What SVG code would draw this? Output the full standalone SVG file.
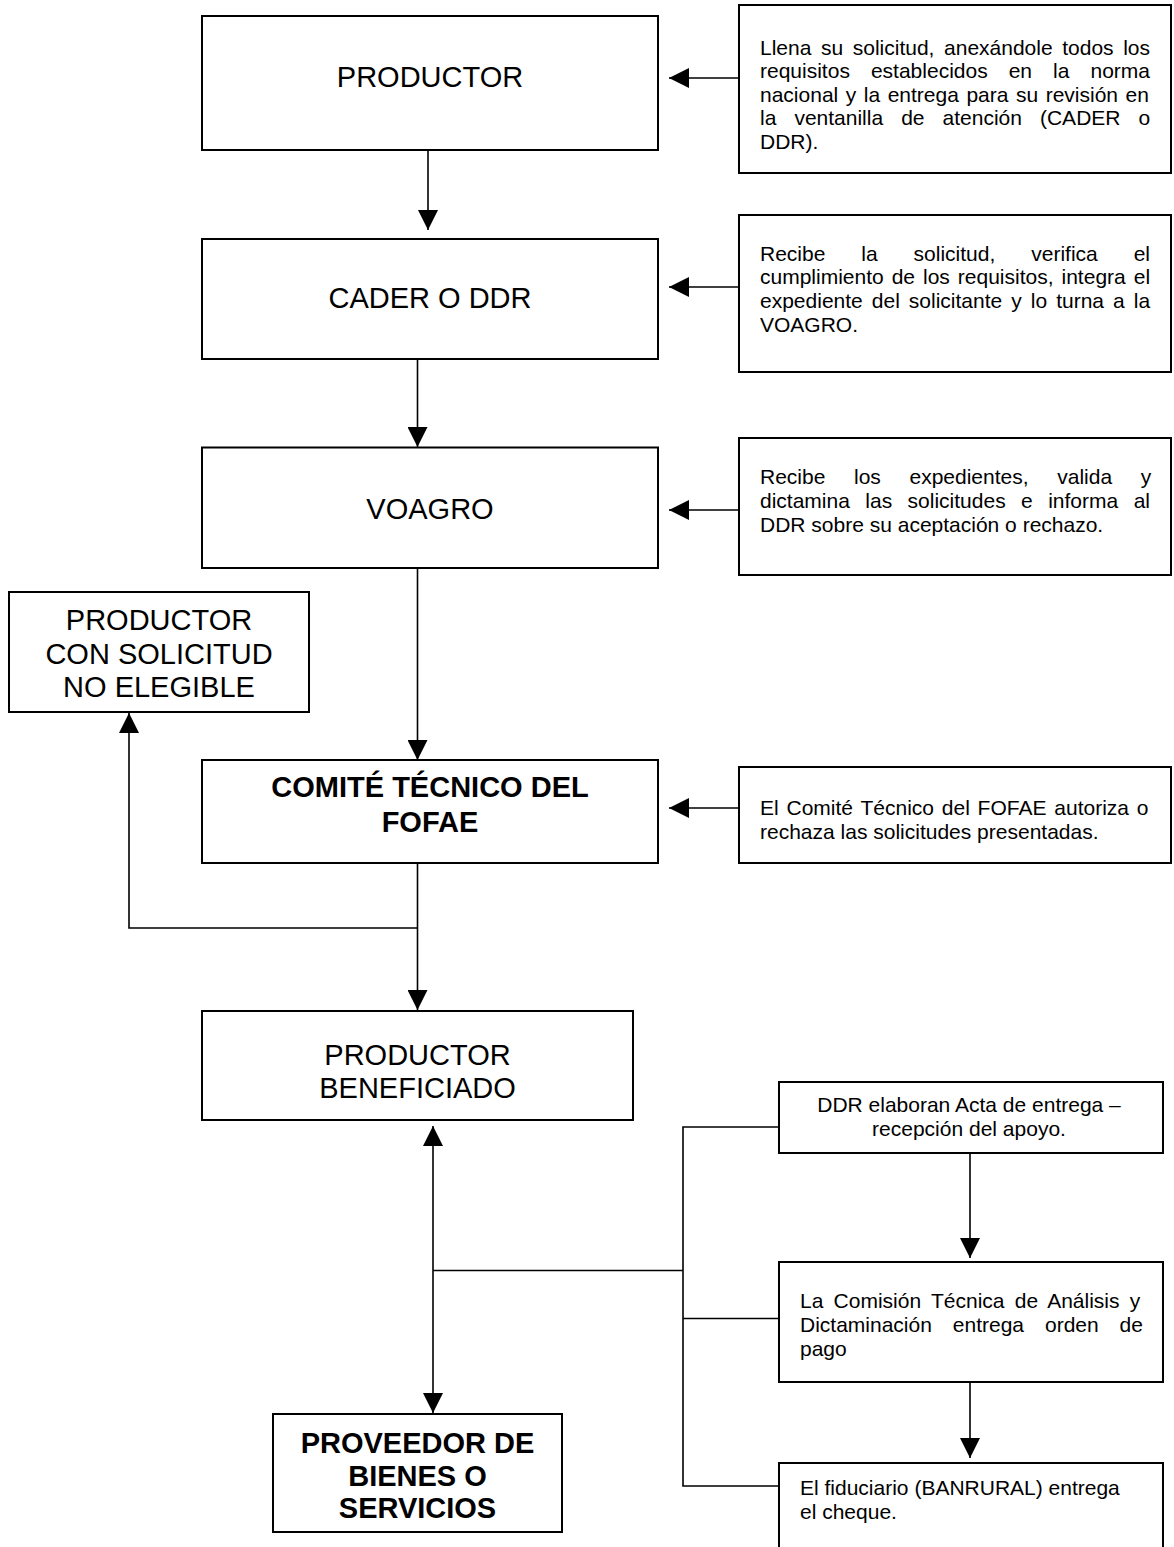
<svg xmlns="http://www.w3.org/2000/svg" width="1174" height="1547" viewBox="0 0 1174 1547">
<style>
.box{fill:#fff;stroke:#000;stroke-width:2}
.t{font-family:"Liberation Sans",Arial,sans-serif;font-size:29px;fill:#000}
.b{font-weight:bold}
.s{font-size:21px}
.mid{text-anchor:middle}
.c line,.c polyline{stroke:#000;stroke-width:1.6;fill:none}
</style>
<defs>
<marker id="ah" markerUnits="userSpaceOnUse" markerWidth="20" markerHeight="20" refX="20" refY="10" orient="auto-start-reverse" viewBox="0 0 20 20">
<path d="M0,0 L20,10 L0,20 Z" fill="#000"/>
</marker>
</defs>
<rect width="1174" height="1547" fill="#fff"/>

<g id="connectors" class="c">
<line x1="428" y1="150" x2="428" y2="230" marker-end="url(#ah)"/>
<line x1="417.5" y1="359" x2="417.5" y2="447" marker-end="url(#ah)"/>
<line x1="417.5" y1="568" x2="417.5" y2="760" marker-end="url(#ah)"/>
<line x1="417.5" y1="863" x2="417.5" y2="1010" marker-end="url(#ah)"/>
<polyline points="417.5,928 129,928 129,713" marker-end="url(#ah)"/>
<line x1="739" y1="78" x2="669" y2="78" marker-end="url(#ah)"/>
<line x1="739" y1="287" x2="669" y2="287" marker-end="url(#ah)"/>
<line x1="739" y1="510" x2="669" y2="510" marker-end="url(#ah)"/>
<line x1="739" y1="808" x2="669" y2="808" marker-end="url(#ah)"/>
<line x1="433" y1="1126" x2="433" y2="1413" marker-start="url(#ah)" marker-end="url(#ah)"/>
<line x1="433" y1="1270.5" x2="683" y2="1270.5"/>
<polyline points="779,1127 683,1127 683,1486 779,1486"/>
<line x1="683" y1="1318.5" x2="779" y2="1318.5"/>
<line x1="970" y1="1153" x2="970" y2="1258" marker-end="url(#ah)"/>
<line x1="970" y1="1382" x2="970" y2="1458" marker-end="url(#ah)"/>
</g>

<g id="productor">
<rect class="box" x="202" y="16" width="456" height="134"/>
<text class="t mid" x="430" y="87">PRODUCTOR</text>
</g>
<g id="cader">
<rect class="box" x="202" y="239" width="456" height="120"/>
<text class="t mid" x="430" y="308">CADER O DDR</text>
</g>
<g id="voagro">
<rect class="box" x="202" y="447.5" width="456" height="120.5"/>
<text class="t mid" x="430" y="518.5">VOAGRO</text>
</g>
<g id="no-elegible">
<rect class="box" x="9" y="592" width="300" height="120"/>
<text class="t mid" x="159"><tspan x="159" y="630">PRODUCTOR</tspan><tspan x="159" y="663.5">CON SOLICITUD</tspan><tspan x="159" y="697">NO ELEGIBLE</tspan></text>
</g>
<g id="comite">
<rect class="box" x="202" y="760" width="456" height="103"/>
<text class="t b mid"><tspan x="430" y="797">COMITÉ TÉCNICO DEL</tspan><tspan x="430" y="831.5">FOFAE</tspan></text>
</g>
<g id="beneficiado">
<rect class="box" x="202" y="1011" width="431" height="109"/>
<text class="t mid"><tspan x="417.5" y="1065">PRODUCTOR</tspan><tspan x="417.5" y="1098">BENEFICIADO</tspan></text>
</g>
<g id="proveedor">
<rect class="box" x="273" y="1414" width="289" height="118"/>
<text class="t b mid"><tspan x="417.5" y="1453">PROVEEDOR DE</tspan><tspan x="417.5" y="1486">BIENES O</tspan><tspan x="417.5" y="1518">SERVICIOS</tspan></text>
</g>

<g id="desc-productor">
<rect class="box" x="739" y="5" width="432" height="168"/>
<text class="t s"><tspan x="760" y="54.5" style="word-spacing:3.76px">Llena su solicitud, anexándole todos los</tspan><tspan x="760" y="78" style="word-spacing:15.2px">requisitos establecidos en la norma</tspan><tspan x="760" y="101.5" style="word-spacing:1.69px">nacional y la entrega para su revisión en</tspan><tspan x="760" y="125" style="word-spacing:12.2px">la ventanilla de atención (CADER o</tspan><tspan x="760" y="148.5">DDR).</tspan></text>
</g>
<g id="desc-cader">
<rect class="box" x="739" y="215" width="432" height="157"/>
<text class="t s"><tspan x="760" y="260.5" style="word-spacing:30.1px">Recibe la solicitud, verifica el</tspan><tspan x="760" y="284.2" style="word-spacing:2.14px">cumplimiento de los requisitos, integra el</tspan><tspan x="760" y="308" style="word-spacing:3.19px">expediente del solicitante y lo turna a la</tspan><tspan x="760" y="331.7">VOAGRO.</tspan></text>
</g>
<g id="desc-voagro">
<rect class="box" x="739" y="438" width="432" height="137"/>
<text class="t s"><tspan x="760" y="484" style="word-spacing:22.8px">Recibe los expedientes, valida y</tspan><tspan x="760" y="507.7" style="word-spacing:9.6px">dictamina las solicitudes e informa al</tspan><tspan x="760" y="531.5">DDR sobre su aceptación o rechazo.</tspan></text>
</g>
<g id="desc-comite">
<rect class="box" x="739" y="767" width="432" height="96"/>
<text class="t s"><tspan x="760" y="815" style="word-spacing:1.98px">El Comité Técnico del FOFAE autoriza o</tspan><tspan x="760" y="838.5">rechaza las solicitudes presentadas.</tspan></text>
</g>
<g id="acta">
<rect class="box" x="779" y="1082" width="384" height="71"/>
<text class="t s mid"><tspan x="969" y="1111.5">DDR elaboran Acta de entrega –</tspan><tspan x="969" y="1136">recepción del apoyo.</tspan></text>
</g>
<g id="comision">
<rect class="box" x="779" y="1262" width="384" height="120"/>
<text class="t s"><tspan x="800" y="1308" style="word-spacing:4.4px">La Comisión Técnica de Análisis y</tspan><tspan x="800" y="1332" style="word-spacing:15.1px">Dictaminación entrega orden de</tspan><tspan x="800" y="1356">pago</tspan></text>
</g>
<g id="fiduciario">
<rect class="box" x="779" y="1463" width="384" height="100"/>
<text class="t s"><tspan x="800" y="1495">El fiduciario (BANRURAL) entrega</tspan><tspan x="800" y="1518.5">el cheque.</tspan></text>
</g>
</svg>
